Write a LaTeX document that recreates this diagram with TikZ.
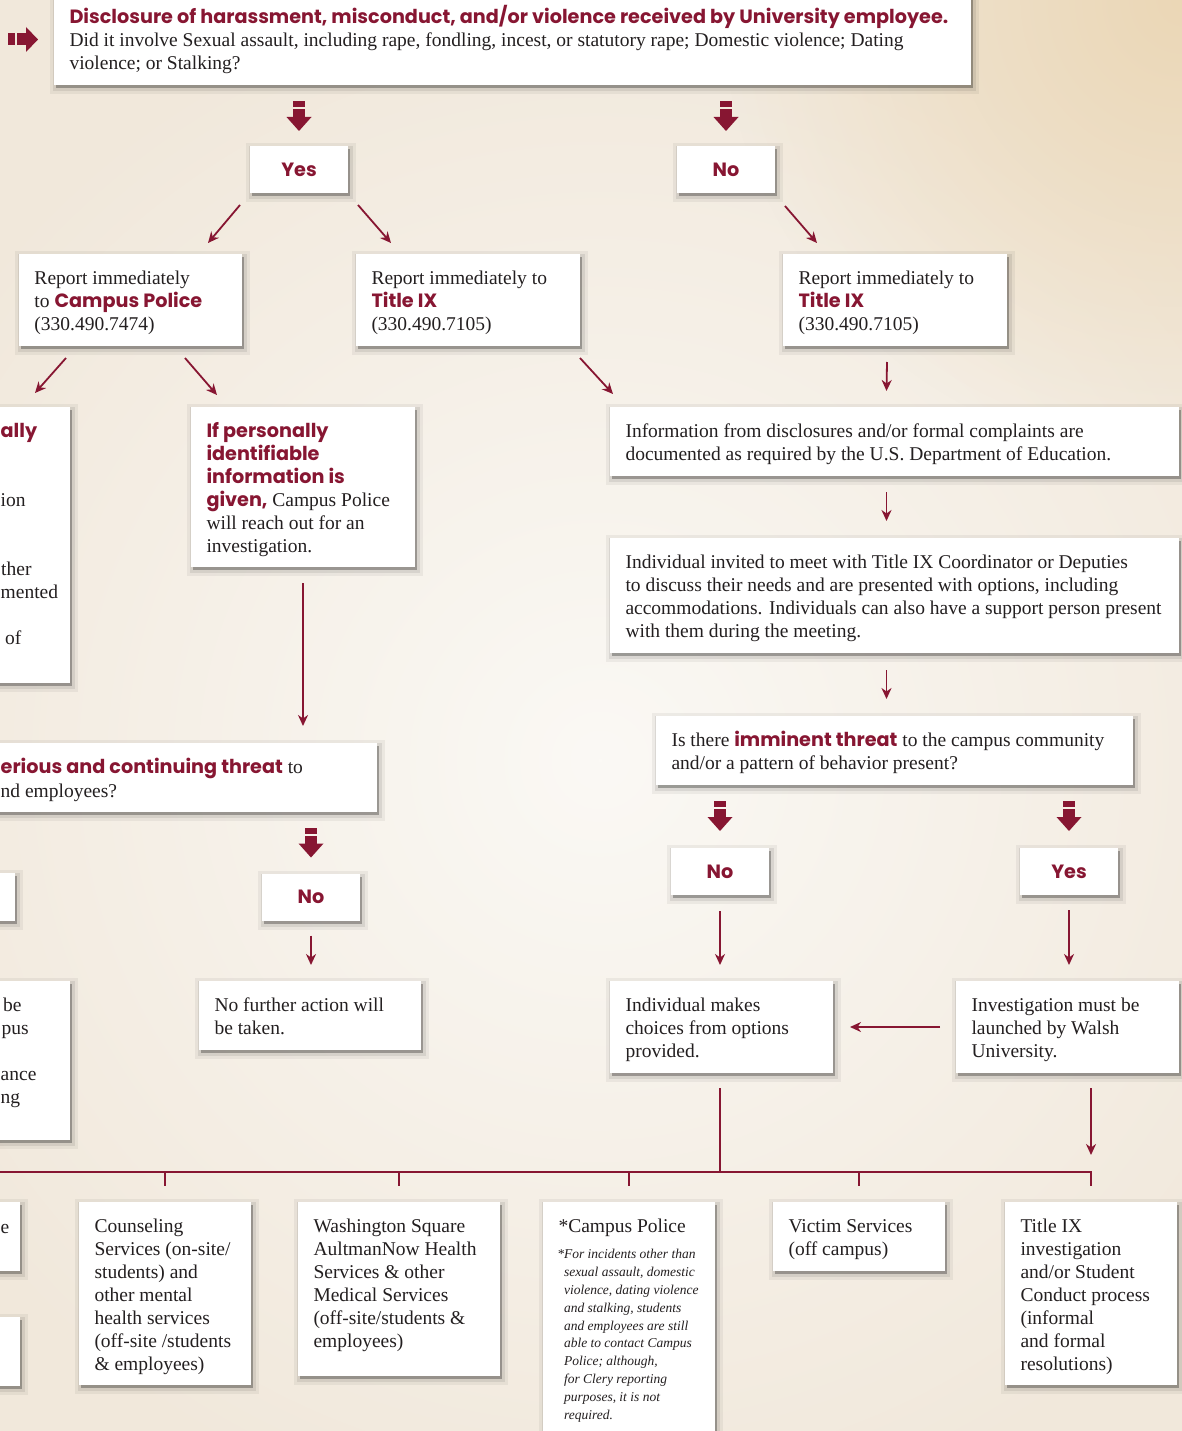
\documentclass[tikz,border=0pt]{standalone}
\usepackage{fontspec}
\setmainfont{Liberation Serif}
\newfontfamily\rsans{Poppins}
\usetikzlibrary{arrows.meta,shadows,fadings,calc}
\definecolor{wred}{RGB}{135,22,50}
\definecolor{bgA}{HTML}{F1E8DB}
\definecolor{bgC}{HTML}{FBF9F5}
\definecolor{bgT}{HTML}{EBD7B6}
\definecolor{ink}{HTML}{231F20}
\tikzfading[name=radfade, inner color=transparent!0, outer color=transparent!100]
\newcommand\hl[1]{{\rsans\bfseries\fontsize{19.2pt}{23pt}\selectfont\color{wred}#1}}
\newcommand\bxt[3]{\parbox[c][#2][t]{#1}{\hspace*{15.5pt}\begin{tabular}[t]{@{}l@{}}\rule{0pt}{30pt}#3\end{tabular}}}
\tikzset{
  softshadow/.style={
    drop shadow={shadow xshift=2pt,shadow yshift=-3pt,opacity=.05,fill=black,draw=black,line width=12pt},
    drop shadow={shadow xshift=2pt,shadow yshift=-3pt,opacity=.08,fill=black,draw=black,line width=6pt},
    drop shadow={shadow xshift=2pt,shadow yshift=-3pt,opacity=.18,fill=black}},
  wbox/.style={softshadow, fill=white, inner sep=0pt, outer sep=0pt, anchor=north west, text=ink, font=\fontsize{19.5pt}{23pt}\selectfont},
  ynbox/.style={softshadow, fill=white, inner sep=0pt, outer sep=0pt, minimum width=98pt, minimum height=47pt},
  conn/.style={draw=wred, line width=1.8pt, -{Stealth[length=11pt,width=10pt,inset=3.5pt]}},
  bus/.style={draw=wred, line width=2pt},
  frag/.style={text=ink, inner sep=0pt, anchor=base west, font=\fontsize{19.5pt}{23pt}\selectfont},
  blockdown/.pic={
    \fill[wred] (-6,0) rectangle (6,6);
    \fill[wred] (-6,8) rectangle (6,17);
    \fill[wred] (-12.5,16) -- (12.5,16) -- (0,30) -- cycle;},
  blockright/.pic={
    \fill[wred] (0,-6) rectangle (7,6);
    \fill[wred] (9,-6) rectangle (19,6);
    \fill[wred] (18,-12.5) -- (18,12.5) -- (30,0) -- cycle;},
}
\begin{document}
\begin{tikzpicture}[x=1pt,y=-1pt]
\useasboundingbox (0,0) rectangle (1182,1431);
\clip (0,0) rectangle (1182,1431);
% background
\fill[bgA] (0,0) rectangle (1182,1431);
\fill[bgC, path fading=radfade] (600,760) circle (800);
\fill[bgT, path fading=radfade] (1182,0) circle (460);

% top question
\node[wbox] (top) at (54,-6) {\bxt{917pt}{91pt}{\hl{Disclosure of harassment, misconduct, and/or violence received by University employee.}\\Did it involve Sexual assault, including rape, fondling, incest, or statutory rape; Domestic violence; Dating\\violence; or Stalking?}};
\pic at ($(top.west)+(-46,0)$) {blockright};

\node[ynbox] (yes1) at (299,169.5) {\hl{Yes}};
\node[ynbox] (no1) at (726,169.5) {\hl{No}};
\pic at ($(yes1.north)+(0,-45)$) {blockdown};
\pic at ($(no1.north)+(0,-45)$) {blockdown};

% report boxes
\node[wbox] (cp) at (19,254) {\bxt{223pt}{92pt}{Report immediately\\to \hl{Campus Police}\\(330.490.7474)}};
\node[wbox] (t9a) at (356,254) {\bxt{224pt}{92pt}{Report immediately to\\\hl{Title IX}\\(330.490.7105)}};
\node[wbox] (t9b) at (783,254) {\bxt{224pt}{92pt}{Report immediately to\\\hl{Title IX}\\(330.490.7105)}};

\draw[conn] ($(yes1.south west)+(-10,12)$) -- ($(cp.north east)+(-34,-11)$);
\draw[conn] ($(yes1.south east)+(10,12)$) -- ($(t9a.north west)+(35,-11)$);
\draw[conn] ($(no1.south east)+(10,13)$) -- ($(t9b.north west)+(34,-11)$);

% second row
\node[wbox, minimum width=90pt, minimum height=276pt] (lA) at (-20,407) {};
\node[frag] (fA1) at (0.5,437) {\hl{ally}};
\node[frag] (fA2) at (0.5,506) {ion};
\node[frag] (fA3) at (1,575) {ther};
\node[frag] (fA4) at (0.5,598) {mented};
\node[frag] (fA5) at (5,644) {of};

\node[wbox] (pii) at (191,407) {\bxt{224pt}{160pt}{\hl{If personally}\\\hl{identifiable}\\\hl{information is}\\\hl{given,} Campus Police\\will reach out for an\\investigation.}};
\node[wbox] (info) at (610,407) {\bxt{569pt}{69pt}{Information from disclosures and/or formal complaints are\\documented as required by the U.S. Department of Education.}};
\node[wbox] (invite) at (610,538) {\bxt{569pt}{115pt}{Individual invited to meet with Title IX Coordinator or Deputies\\to discuss their needs and are presented with options, including\\accommodations. Individuals can also have a support person present\\with them during the meeting.}};
\node[wbox] (imm) at (656,716) {\bxt{477pt}{69pt}{Is there \hl{imminent threat} to the campus community\\and/or a pattern of behavior present?}};

\draw[conn] ($(cp.south west)+(47,12)$) -- ($(lA.north east)+(-35,-14)$);
\draw[conn] ($(cp.south east)+(-57,12)$) -- ($(pii.north west)+(26,-12)$);
\draw[conn] ($(t9a.south east)+(0,12)$) -- ($(info.north west)+(3,-13)$);
\draw[conn] ($(t9b.south)+(-8,16)$) -- ($(info.north)+(-8,-16)$);
\draw[conn] ($(info.south)+(-8,16)$) -- ($(invite.north)+(-8,-17)$);
\draw[conn] ($(invite.south)+(-8,17)$) -- ($(imm.north)+(-8,-17)$);

% left middle
\node[wbox, minimum width=397pt, minimum height=69pt] (ser) at (-20,743) {};
\node[frag] (fS1) at (0.5,773) {\hl{erious and continuing threat} to};
\node[frag] (fS2) at (0.5,797) {nd employees?};
\draw[conn] ($(pii.south)+(0,16)$) -- ($(pii.south |- ser.north)+(0,-17)$);

\node[wbox, minimum width=35pt, minimum height=48pt] (yesL) at (-20,873) {};
\node[ynbox] (noL) at (311,897) {\hl{No}};
\pic at ($(noL.north)+(0,-46)$) {blockdown};
\node[wbox] (nfa) at (199,981) {\bxt{222pt}{69pt}{No further action will\\be taken.}};
\draw[conn] ($(noL.south)+(0,15)$) -- ($(nfa.north -| noL)+(0,-16)$);

\node[wbox, minimum width=90pt, minimum height=159pt] (lB) at (-20,981) {};
\node[frag] (fB1) at (3,1011) {be};
\node[frag] (fB2) at (1.5,1034) {pus};
\node[frag] (fB3) at (0.5,1080) {ance};
\node[frag] (fB4) at (0.5,1103) {ng};

% right lower
\node[ynbox] (noR) at (720,871.5) {\hl{No}};
\node[ynbox] (yesR) at (1069,871.5) {\hl{Yes}};
\pic at ($(noR.north)+(0,-47)$) {blockdown};
\pic at ($(yesR.north)+(0,-47)$) {blockdown};
\node[wbox] (choices) at (610,981) {\bxt{223pt}{92pt}{Individual makes\\choices from options\\provided.}};
\node[wbox] (invest) at (956,981) {\bxt{223pt}{92pt}{Investigation must be\\launched by Walsh\\University.}};
\draw[conn] ($(noR.south)+(0,16)$) -- ($(choices.north -| noR)+(0,-16)$);
\draw[conn] ($(yesR.south)+(0,15)$) -- ($(invest.north -| yesR)+(0,-16)$);
\draw[conn] ($(invest.west)+(-16,0)$) -- ($(choices.east)+(17,0)$);

% bottom row
\node[wbox, minimum width=40pt, minimum height=69pt] (bl1) at (-20,1202) {};
\node[frag] (fC1) at (0.5,1233) {e};
\node[wbox, minimum width=40pt, minimum height=69pt] (bl2) at (-20,1317) {};
\node[wbox] (couns) at (79,1202) {\bxt{172pt}{183pt}{Counseling\\Services (on-site/\\students) and\\other mental\\health services\\(off-site /students\\\& employees)}};
\node[wbox] (wash) at (298,1202) {\bxt{202pt}{174pt}{Washington Square\\AultmanNow Health\\Services \& other\\Medical Services\\(off-site/students \&\\employees)}};
\node[wbox] (cpb) at (543,1202) {\parbox[c][250pt][t]{172pt}{\hspace*{15.5pt}\begin{tabular}[t]{@{}l@{}}\rule{0pt}{30pt}*Campus Police\end{tabular}\par\vspace{6.6pt}{\fontsize{13.5pt}{17.8pt}\selectfont\itshape\hspace*{21pt}\begin{tabular}[t]{@{}l@{}}\llap{*}For incidents other than\\sexual assault, domestic\\violence, dating violence\\and stalking, students\\and employees are still\\able to contact Campus\\Police; although,\\for Clery reporting\\purposes, it is not\\required.\end{tabular}\par}}};
\node[wbox] (victim) at (773,1202) {\bxt{172pt}{69pt}{Victim Services\\(off campus)}};
\node[wbox] (t9c) at (1005,1202) {\bxt{172pt}{183pt}{Title IX\\investigation\\and/or Student\\Conduct process\\(informal\\and formal\\resolutions)}};

\coordinate (busL) at (-5,1172);
\coordinate (busR) at ($(t9c.north)+(0,-30)$);
\draw[bus] ($(choices.south -| noR)+(0,15)$) -- (noR |- busR);
\draw[bus] (busL) -- (busR) -- ($(t9c.north)+(0,-16)$);
\foreach \b in {couns,wash,cpb,victim}
  \draw[bus] (\b.north |- busR) -- ($(\b.north)+(0,-16)$);
\draw[conn] ($(t9c.north |- invest.south)+(0,15)$) -- ($(busR)+(0,-17)$);
\end{tikzpicture}
\end{document}
